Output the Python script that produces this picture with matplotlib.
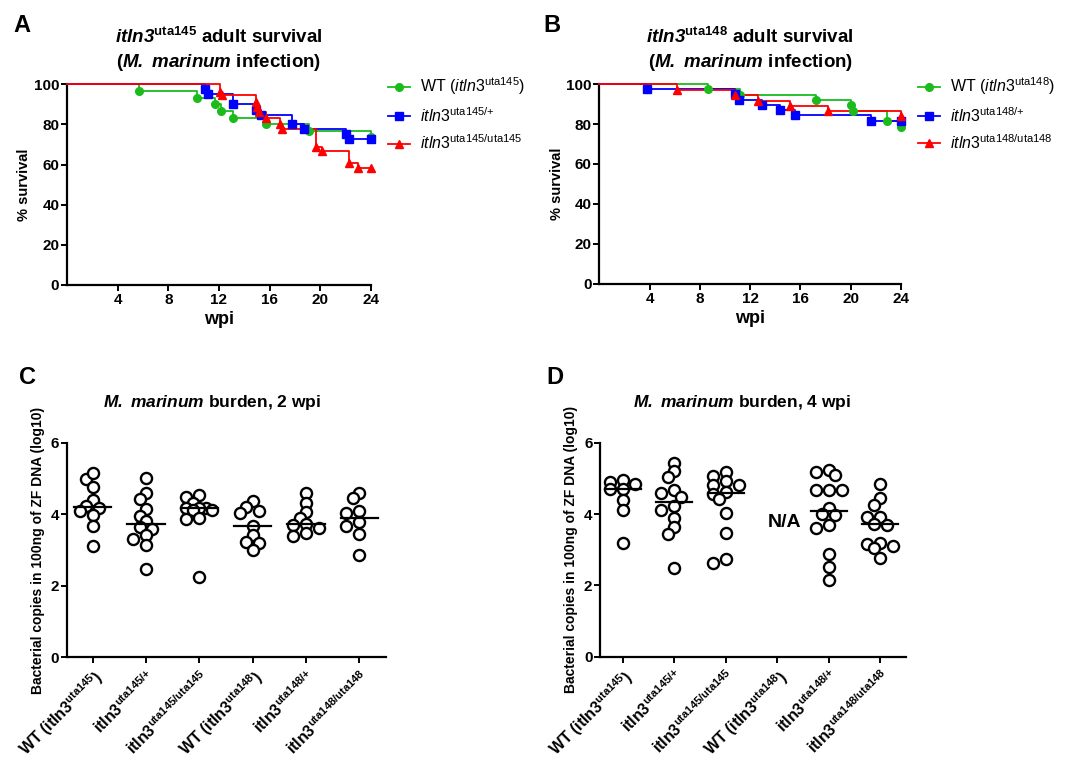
import numpy as np
import matplotlib
matplotlib.use("Agg")
import matplotlib.pyplot as plt
from matplotlib.lines import Line2D

plt.rcParams['font.family'] = ['Liberation Sans', 'DejaVu Sans']
plt.rcParams['mathtext.fontset'] = 'custom'
plt.rcParams['mathtext.rm'] = 'Liberation Sans'
plt.rcParams['mathtext.it'] = 'Liberation Sans:italic'
plt.rcParams['mathtext.bf'] = 'Liberation Sans:bold'
plt.rcParams['mathtext.bfit'] = 'Liberation Sans:italic:bold'

# ---------------- data: survival (Kaplan-Meier steps) ----------------
a_wt_t = [0, 5.7, 10.3, 11.7, 12.2, 13.1, 15.7, 19.1, 24]
a_wt_s = [100, 96.7, 93.3, 90.0, 86.7, 83.3, 80.0, 76.7, 73.6]
a_het_t = [0, 10.9, 11.1, 13.1, 14.95, 15.3, 17.8, 18.7, 22.0, 22.3, 24]
a_het_s = [100, 97.5, 95.0, 90.0, 87.2, 84.7, 80.0, 77.5, 75.0, 72.5, 72.5]
a_mut_t = [0, 12.05, 12.26, 14.9, 15.0, 15.2, 15.7, 16.85, 17.0, 19.7, 20.1, 22.3, 23.0, 24]
a_mut_s = [100, 96.3, 94.5, 91.0, 88.5, 86.0, 83.3, 80.0, 77.8, 69.0, 66.7, 61.0, 58.3, 58.3]

b_wt_t = [0, 8.65, 11.2, 17.2, 20.0, 20.2, 22.9, 24]
b_wt_s = [100, 97.3, 94.7, 92.0, 89.3, 86.7, 81.3, 78.7]
b_het_t = [0, 3.8, 10.8, 11.1, 12.9, 14.4, 15.6, 21.6, 24]
b_het_s = [100, 97.3, 94.9, 92.0, 89.3, 86.8, 84.3, 81.6, 81.6]
b_mut_t = [0, 6.2, 10.8, 12.6, 15.15, 18.2, 24]
b_mut_s = [100, 97.2, 94.7, 91.5, 88.8, 86.7, 84.0]

surv_xticks = [4, 8, 12, 16, 20, 24]
surv_yticks = [0, 20, 40, 60, 80, 100]

# ---------------- data: bacterial burden (log10) ----------------
c_groups = [
    [5.0, 5.16, 4.77, 4.40, 4.23, 4.17, 4.09, 3.98, 3.68, 3.12],
    [5.02, 4.59, 4.42, 4.14, 3.97, 3.83, 3.65, 3.59, 3.44, 3.31, 3.14, 2.48],
    [4.54, 4.49, 4.32, 4.19, 4.19, 4.19, 4.12, 4.12, 3.90, 3.86, 2.25],
    [4.38, 4.21, 4.10, 4.03, 3.68, 3.44, 3.24, 3.19, 3.00],
    [4.60, 4.32, 4.07, 3.90, 3.73, 3.70, 3.62, 3.48, 3.40],
    [4.60, 4.46, 4.09, 4.05, 3.78, 3.67, 3.45, 2.88],
]
d_groups = [
    [4.96, 4.89, 4.84, 4.70, 4.70, 4.38, 4.10, 3.20],
    [5.43, 5.20, 5.05, 4.68, 4.59, 4.47, 4.23, 4.10, 3.90, 3.65, 3.43, 2.49],
    [5.19, 5.08, 4.94, 4.82, 4.82, 4.61, 4.56, 4.42, 4.02, 3.47, 2.73, 2.64],
    [],
    [5.24, 5.19, 5.10, 4.68, 4.68, 4.68, 4.17, 4.00, 3.96, 3.68, 3.61, 2.89, 2.51, 2.16],
    [4.84, 4.44, 4.24, 3.93, 3.91, 3.72, 3.70, 3.19, 3.17, 3.09, 3.04, 2.77],
]
burden_labels = [
    r"WT ($\mathbf{itln3}^{\mathbf{uta145}}$)",
    r"$\mathbf{itln3}^{\mathbf{uta145/}\mathbf{+}}$",
    r"$\mathbf{itln3}^{\mathbf{uta145/uta145}}$",
    r"WT ($\mathbf{itln3}^{\mathbf{uta148}}$)",
    r"$\mathbf{itln3}^{\mathbf{uta148/}\mathbf{+}}$",
    r"$\mathbf{itln3}^{\mathbf{uta148/uta148}}$",
]
burden_yticks = [0, 2, 4, 6]

GREEN = '#1cbb1c'
BLUE = '#0000ff'
RED = '#ff0000'

fig = plt.figure(figsize=(10.73, 7.63), dpi=100)

def style_axes(ax, labelsize=11):
    for s in ['top', 'right']:
        ax.spines[s].set_visible(False)
    for s in ['left', 'bottom']:
        ax.spines[s].set_linewidth(1.6)
    ax.tick_params(direction='out', length=4, width=1.4, labelsize=labelsize, pad=1.5)
    for lab in ax.get_xticklabels() + ax.get_yticklabels():
        lab.set_fontweight('bold')

def survival_panel(rect, curves, tag, letter, letter_x):
    ax = fig.add_axes(rect)
    handles = []
    for t, s, c, m, ms, lab in curves:
        ax.step(t, s, where='post', color=c, lw=1.3, clip_on=False, zorder=3)
        ax.plot(t[1:], s[1:], ls='none', marker=m, ms=ms, color=c, clip_on=False, zorder=4)
        handles.append(Line2D([0], [0], color=c, lw=1.3, marker=m, ms=ms, label=lab))
    ax.set_xlim(0, 24)
    ax.set_ylim(0, 100)
    ax.set_xticks(surv_xticks)
    ax.set_yticks(surv_yticks)
    style_axes(ax)
    ax.set_xlabel('wpi', fontsize=13, fontweight='bold', labelpad=3)
    ax.set_ylabel('% survival', fontsize=10.5, fontweight='bold', labelpad=2)
    ax.legend(handles=handles, loc='upper left', bbox_to_anchor=(1.035, 1.075),
              frameon=False, fontsize=11.5, handlelength=1.4, handletextpad=0.6,
              labelspacing=0.55, borderaxespad=0)
    pos = ax.get_position()
    xc = pos.x0 + pos.width / 2
    fig.text(xc, 1 - 43.3 / 763,
             r"$\mathbfit{itln3}^{\mathbf{" + tag + r"}}$ adult survival",
             ha='center', va='baseline', fontsize=13.5, fontweight='bold')
    fig.text(xc, 1 - 66.7 / 763, r"($\mathbfit{M.}$ $\mathbfit{marinum}$ infection)",
             ha='center', va='baseline', fontsize=13.5, fontweight='bold')
    fig.text(letter_x, 1 - 32 / 763, letter, fontsize=17, fontweight='bold', va='baseline')
    return ax

survival_panel([0.0624, 0.6265, 0.2833, 0.2630], [
    (a_wt_t, a_wt_s, GREEN, 'o', 5.5, r"WT ($\mathit{itln3}^{\mathrm{uta145}}$)"),
    (a_het_t, a_het_s, BLUE, 's', 5.5, r"$\mathit{itln3}^{\mathrm{uta145/}\mathrm{+}}$"),
    (a_mut_t, a_mut_s, RED, '^', 6, r"$\mathit{itln3}^{\mathrm{uta145/uta145}}$"),
], 'uta145', 'A', 13 / 1073)

survival_panel([0.5587, 0.6278, 0.2810, 0.2621], [
    (b_wt_t, b_wt_s, GREEN, 'o', 5.5, r"WT ($\mathit{itln3}^{\mathrm{uta148}}$)"),
    (b_het_t, b_het_s, BLUE, 's', 5.5, r"$\mathit{itln3}^{\mathrm{uta148/}\mathrm{+}}$"),
    (b_mut_t, b_mut_s, RED, '^', 6, r"$\mathit{itln3}^{\mathrm{uta148/uta148}}$"),
], 'uta148', 'B', 543 / 1073)


def swarm_offsets(values, px_per_cat, px_per_unit, step_px=6.4, min_dist=8.0, kmax=2):
    values = np.asarray(values, dtype=float)
    order = np.argsort(-values, kind='stable')
    placed = []
    offs = np.zeros(len(values))
    cands = [0]
    for k in range(1, kmax + 1):
        cands += [-k, k]
    for i in order:
        y = values[i] * px_per_unit
        best_x, best_d = 0.0, -1.0
        chosen = None
        for k in cands:
            x = k * step_px
            d = min([np.hypot(x - px, y - py) for px, py in placed], default=1e9)
            if d >= min_dist:
                chosen = x
                break
            if d > best_d:
                best_d, best_x = d, x
        if chosen is None:
            chosen = best_x
        placed.append((chosen, y))
        offs[i] = chosen / px_per_cat
    return offs


def burden_panel(rect, groups, title, title_x, letter, letter_x, xlim, na_index=None):
    ax = fig.add_axes(rect)
    ax.set_xlim(*xlim)
    ax.set_ylim(0, 6)
    bbox = ax.get_position()
    px_w = bbox.width * 1073
    px_h = bbox.height * 763
    px_per_cat = px_w / (xlim[1] - xlim[0])
    px_per_unit = px_h / 6
    for i, vals in enumerate(groups):
        if len(vals) == 0:
            continue
        offs = swarm_offsets(vals, px_per_cat, px_per_unit)
        ax.plot(i + offs, vals, ls='none', marker='o', ms=8, mfc='white', mec='black',
                mew=1.7, clip_on=False, zorder=3)
        med = np.median(vals)
        ax.plot([i - 0.35, i + 0.35], [med, med], color='black', lw=1.6, zorder=4)
    if na_index is not None:
        ax.text(na_index + 0.15, 3.75, 'N/A', ha='center', va='center', fontsize=14,
                fontweight='bold')
    ax.set_xticks(range(len(groups)))
    ax.set_xticklabels(burden_labels)
    ax.set_yticks(burden_yticks)
    style_axes(ax)
    for lab in ax.get_xticklabels():
        lab.set_rotation(45)
        lab.set_ha('right')
        lab.set_va('top')
        lab.set_rotation_mode('anchor')
        lab.set_fontsize(11.5)
        lab.set_fontweight('bold')
    ax.tick_params(axis='x', pad=3)
    ax.set_ylabel('Bacterial copies in 100ng of ZF DNA (log10)', fontsize=10,
                  fontweight='bold', labelpad=4)
    fig.text(title_x / 1073, 1 - 407 / 763, title, ha='center', va='baseline',
             fontsize=12.5, fontweight='bold')
    fig.text(letter_x, 1 - 384 / 763, letter, fontsize=17, fontweight='bold', va='baseline')
    return ax

burden_panel([0.0624, 0.1383, 0.2973, 0.2811], c_groups,
             r"$\mathbfit{M.}$ $\mathbfit{marinum}$ burden, 2 wpi", 212, 'C', 19 / 1073,
             (-0.48, 5.5))
burden_panel([0.5592, 0.1393, 0.2852, 0.2805], d_groups,
             r"$\mathbfit{M.}$ $\mathbfit{marinum}$ burden, 4 wpi", 742, 'D', 546 / 1073,
             (-0.44, 5.5), na_index=3)

fig.savefig('out.png', dpi=100)
